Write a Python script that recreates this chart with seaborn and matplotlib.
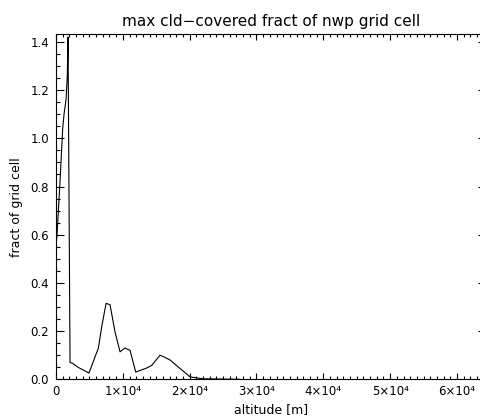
import matplotlib
matplotlib.use("Agg")
import matplotlib.pyplot as plt
import seaborn as sns
import pandas as pd
from matplotlib.ticker import MultipleLocator, FixedLocator, FixedFormatter

# ---- data ----
altitude = [0, 150, 600, 1000, 1200, 1500, 1690, 1800, 2100, 2440, 3290, 4940,
            5840, 6330, 6840, 7490, 8080, 8830, 9580, 10330, 11080, 11930,
            13580, 14330, 15570, 16170, 17070, 18560, 20060, 22010, 27550]
fraction = [0.55, 0.60, 0.82, 1.04, 1.10, 1.16, 1.26, 1.42, 0.07, 0.067, 0.05, 0.026,
            0.093, 0.128, 0.218, 0.315, 0.31, 0.197, 0.114, 0.13, 0.12, 0.03,
            0.047, 0.058, 0.10, 0.093, 0.08, 0.045, 0.01, 0.002, 0.0]
xtick_values = [0, 10000, 20000, 30000, 40000, 50000, 60000]
xtick_labels = ["0", "1×10⁴", "2×10⁴", "3×10⁴", "4×10⁴", "5×10⁴", "6×10⁴"]
ytick_values = [0.0, 0.2, 0.4, 0.6, 0.8, 1.0, 1.2, 1.4]
ytick_labels = ["0.0", "0.2", "0.4", "0.6", "0.8", "1.0", "1.2", "1.4"]
title = "max cld\u2212covered fract of nwp grid cell"
xlabel = "altitude [m]"
ylabel = "fract of grid cell"

df = pd.DataFrame({"altitude": altitude, "fraction": fraction})

sns.set_style("ticks")
plt.rcParams["font.family"] = ["DejaVu Sans"]

fig = plt.figure(figsize=(4.8, 4.19), dpi=100)
ax = fig.add_axes([56 / 480, 1 - 379.3 / 419, 430 / 480, 345.3 / 419])

sns.lineplot(data=df, x="altitude", y="fraction", ax=ax, color="black",
             linewidth=0.8, sort=False, estimator=None)

ax.set_xlim(0, 64340)
ax.set_ylim(0, 1.433)

ax.xaxis.set_major_locator(FixedLocator(xtick_values))
ax.xaxis.set_major_formatter(FixedFormatter(xtick_labels))
ax.xaxis.set_minor_locator(MultipleLocator(1000))
ax.yaxis.set_major_locator(FixedLocator(ytick_values))
ax.yaxis.set_major_formatter(FixedFormatter(ytick_labels))
ax.yaxis.set_minor_locator(MultipleLocator(0.05))

ax.tick_params(which="both", direction="in", top=True, right=True,
               color="black", width=0.8, labelsize=8.5, labelcolor="black")
ax.tick_params(axis="x", which="major", length=4.5, pad=4)
ax.tick_params(axis="x", which="minor", length=2.2)
ax.tick_params(axis="y", which="major", length=5.5, pad=5)
ax.tick_params(axis="y", which="minor", length=2.8)

for s in ax.spines.values():
    s.set_visible(True)
    s.set_color("black")
    s.set_linewidth(0.8)

ax.set_title(title, fontsize=11, pad=6, color="black")
ax.set_xlabel(xlabel, fontsize=9, color="black")
ax.set_ylabel(ylabel, fontsize=9, color="black")
ax.xaxis.set_label_coords(0.5, -(403 - 379.3) / 345.3)
ax.yaxis.set_label_coords((23 - 56) / 430, 0.5)

ax.grid(False)
fig.savefig("out.png", dpi=100)
